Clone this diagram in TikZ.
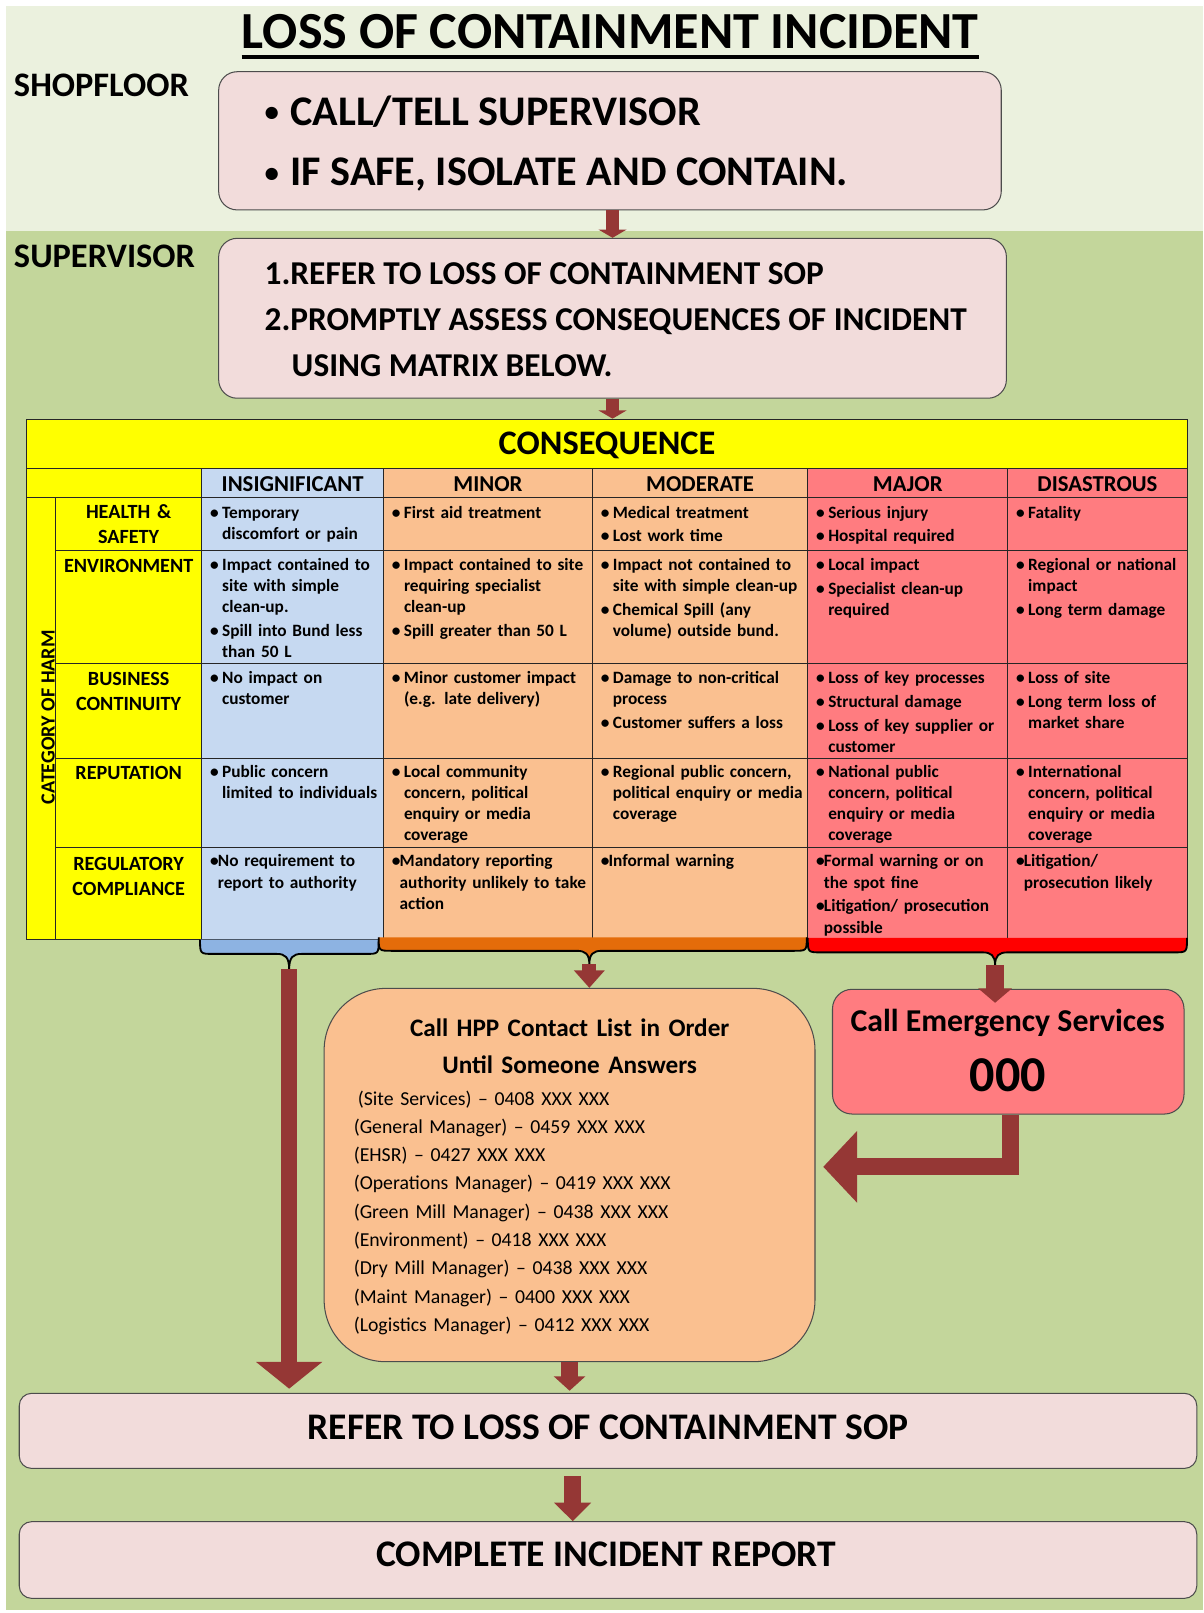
\documentclass[tikz,border=0pt]{standalone}
\usepackage{fontspec}
\setmainfont{Carlito}
\usetikzlibrary{arrows.meta,calc}
\definecolor{bandlight}{HTML}{EBF1DE}
\definecolor{bandgreen}{HTML}{C3D69B}
\definecolor{pinkc}{HTML}{F2DCDB}
\definecolor{arrowc}{HTML}{953735}
\definecolor{yelc}{HTML}{FFFF00}
\definecolor{bluec}{HTML}{C6D9F1}
\definecolor{peachc}{HTML}{FAC090}
\definecolor{redc}{HTML}{FF7C80}
\definecolor{braceblue}{HTML}{8DB3E2}
\definecolor{braceorange}{HTML}{E46C0A}
\definecolor{bracered}{HTML}{FF0000}
\newcommand\bodyfont{\fontsize{16.8}{20.3}\selectfont\bfseries}
\newcommand\regfont{\fontsize{16.8}{21}\selectfont\bfseries}
\newcommand\bu{\makebox[11.7pt][l]{•}}
\newcommand\ind{\hspace*{11.7pt}}
\newcommand\bt{\makebox[7.5pt][l]{•}}
\newcommand\indt{\hspace*{7.5pt}}
\newcommand\bigbullet{\makebox[31pt][l]{\hspace{6pt}\raisebox{3pt}{\fontsize{28}{30}\selectfont•}}}
\begin{document}
\begin{tikzpicture}[x=1pt,y=-1pt,
  pinkbox/.style={draw=black!70, line width=1pt, fill=pinkc, rounded corners=18pt, inner sep=0pt},
  lab/.style={anchor=base west, inner sep=0pt, font=\fontsize{33.4}{40}\selectfont\bfseries},
  bigtext/.style={anchor=base west, inner sep=0pt, font=\fontsize{41}{50}\selectfont\bfseries},
  suptext/.style={anchor=base west, inner sep=0pt, font=\fontsize{32.4}{40}\selectfont\bfseries},
  hdr/.style={anchor=base, inner sep=0pt, font=\fontsize{22.1}{26}\selectfont\bfseries},
  rowlab/.style={anchor=base, inner sep=0pt, text width=142pt, align=center, font=\fontsize{19.6}{24.3}\selectfont\bfseries},
  cellt/.style={anchor=base west, inner sep=0pt, text width=250pt, align=left, font=\bodyfont},
  regt/.style={anchor=base west, inner sep=0pt, text width=250pt, align=left, font=\regfont},
  gridline/.style={draw=black!85, line width=1.3pt},
  braceline/.style={draw=black, line width=1.8pt},
  bracep/.style n args={6}{insert path={(#1,#4) .. controls (#1,#5) .. ({#1+13},#5) -- ({#3-12},#5) .. controls ({#3-4},#5) and (#3,{#5+3}) .. (#3,#6) .. controls (#3,{#5+3}) and ({#3+4},#5) .. ({#3+12},#5) -- ({#2-13},#5) .. controls (#2,#5) .. (#2,#4)}},
  blockarrow/.style={draw=arrowc, line cap=butt}
]
\useasboundingbox (0,0) rectangle (1169.1,1567.5);
\fill[white] (0,0) rectangle (1169.1,1567.5);
\fill[bandlight] (5.5,5.8) rectangle (1169.1,224);
\fill[bandgreen] (5.5,224) rectangle (1169.1,1565);

% title
\node[anchor=base, inner sep=0pt, font=\fontsize{50.6}{60}\selectfont\bfseries] (title) at (593,47.5) {LOSS OF CONTAINMENT INCIDENT};
\draw[line width=3.5pt] ([yshift=-8pt]title.base west) -- ([yshift=-8pt]title.base east);

% lane labels
\node[lab] (lshop) at (13.4,94) {SHOPFLOOR};
\node[lab] (lsup) at (13.4,259.6) {SUPERVISOR};

% shopfloor box
\node[pinkbox, minimum width=760.5pt, minimum height=134.3pt] (shop) at (592.75,136.85) {};
\node[bigtext] (s1) at (251,121.5) {\bigbullet CALL/TELL SUPERVISOR};
\node[bigtext] (s2) at (251,180) {\bigbullet IF SAFE, ISOLATE AND CONTAIN.};

% supervisor box
\node[pinkbox, minimum width=765.5pt, minimum height=155.4pt] (sup) at (595.25,309.3) {};
\node[suptext] (p1) at (257,276) {1.REFER TO LOSS OF CONTAINMENT SOP};
\node[suptext] (p2) at (257,321.4) {2.PROMPTLY ASSESS CONSEQUENCES OF INCIDENT};
\node[suptext] (p3) at (283.3,366) {USING MATRIX BELOW.};

\draw[blockarrow, line width=12pt, -{Triangle[width=27pt,length=8pt]}] (sup.north |- shop.south) -- (sup.north);

% table fills
\fill[yelc] (26,407.5) rectangle (1153.8,455);
\fill[yelc] (26,455) rectangle (196,912.8);
\fill[bluec] (196,455) rectangle (372.7,912.8);
\fill[peachc] (372.7,455) rectangle (785,912.8);
\fill[redc] (785,455) rectangle (1153.8,912.8);
% grid
\draw[gridline] (26,455) -- (1153.8,455);
\draw[gridline] (26,483.3) -- (1153.8,483.3);
\foreach \yy in {535,644.6,737,823.4} \draw[gridline] (54,\yy) -- (1153.8,\yy);
\draw[gridline] (54,483.3) -- (54,912.8);
\foreach \xx in {196,372.7,575.7,785,979.3} \draw[gridline] (\xx,455) -- (\xx,912.8);
\node[draw=black!85, line width=1.3pt, minimum width=1127.8pt, minimum height=505.3pt, inner sep=0pt] (tbl) at (589.9,660.15) {};

\draw[blockarrow, line width=12pt, -{Triangle[width=27pt,length=8pt]}] (sup.south) -- (sup.south |- tbl.north);

% headings
\node[anchor=base, inner sep=0pt, font=\fontsize{33.4}{40}\selectfont\bfseries] (cons) at (589.9,442) {CONSEQUENCE};
\node[hdr] (h1) at (284.4,478) {INSIGNIFICANT};
\node[hdr] (h2) at (474.2,478) {MINOR};
\node[hdr] (h3) at (680.4,478) {MODERATE};
\node[hdr] (h4) at (882.2,478) {MAJOR};
\node[hdr] (h5) at (1066.5,478) {DISASTROUS};

\node[rotate=90, anchor=base, inner sep=0pt, font=\fontsize{19.5}{24}\selectfont\bfseries] (cat) at (53,697) {CATEGORY OF HARM};

\node[rowlab] (r1) at (125,503.7) {HEALTH \&\\SAFETY};
\node[rowlab] (r2) at (125,556.5) {ENVIRONMENT};
\node[rowlab] (r3) at (125,666.2) {BUSINESS\\CONTINUITY};
\node[rowlab] (r4) at (125,757.4) {REPUTATION};
\node[rowlab] (r5) at (125,845.5) {REGULATORY\\COMPLIANCE};

% row 1
\node[cellt] (c11) at (204,503.5) {\bu Temporary\\\ind discomfort or pain};
\node[cellt] (c12) at (380.7,503.5) {\bu First aid treatment};
\node[cellt] (c13) at (583.7,503.5) {\bu Medical treatment\\[2.8pt]\bu Lost work time};
\node[cellt] (c14) at (793,503.5) {\bu Serious injury\\[2.8pt]\bu Hospital required};
\node[cellt] (c15) at (987.3,503.5) {\bu Fatality};
% row 2
\node[cellt] (c21) at (204,554.8) {\bu Impact contained to\\\ind site with simple\\\ind clean-up.\\[2.8pt]\bu Spill into Bund less\\\ind than 50 L};
\node[cellt] (c22) at (380.7,554.8) {\bu Impact contained to site\\\ind requiring specialist\\\ind clean-up\\[2.8pt]\bu Spill greater than 50 L};
\node[cellt] (c23) at (583.7,554.8) {\bu Impact not contained to\\\ind site with simple clean-up\\[2.8pt]\bu Chemical Spill (any\\\ind volume) outside bund.};
\node[cellt] (c24) at (793,554.8) {\bu Local impact\\[2.8pt]\bu Specialist clean-up\\\ind required};
\node[cellt] (c25) at (987.3,554.8) {\bu Regional or national\\\ind impact\\[2.8pt]\bu Long term damage};
% row 3
\node[cellt] (c31) at (204,664.3) {\bu No impact on\\\ind customer};
\node[cellt] (c32) at (380.7,664.3) {\bu Minor customer impact\\\ind (e.g. late delivery)};
\node[cellt] (c33) at (583.7,664.3) {\bu Damage to non-critical\\\ind process\\[2.8pt]\bu Customer suffers a loss};
\node[cellt] (c34) at (793,664.3) {\bu Loss of key processes\\[2.8pt]\bu Structural damage\\[2.8pt]\bu Loss of key supplier or\\\ind customer};
\node[cellt] (c35) at (987.3,664.3) {\bu Loss of site\\[2.8pt]\bu Long term loss of\\\ind market share};
% row 4
\node[cellt] (c41) at (204,755.8) {\bu Public concern\\\ind limited to individuals};
\node[cellt] (c42) at (380.7,755.8) {\bu Local community\\\ind concern, political\\\ind enquiry or media\\\ind coverage};
\node[cellt] (c43) at (583.7,755.8) {\bu Regional public concern,\\\ind political enquiry or media\\\ind coverage};
\node[cellt] (c44) at (793,755.8) {\bu National public\\\ind concern, political\\\ind enquiry or media\\\ind coverage};
\node[cellt] (c45) at (987.3,755.8) {\bu International\\\ind concern, political\\\ind enquiry or media\\\ind coverage};
% row 5
\node[regt] (c51) at (204,842.3) {\bt No requirement to\\\indt report to authority};
\node[regt] (c52) at (380.7,842.3) {\bt Mandatory reporting\\\indt authority unlikely to take\\\indt action};
\node[regt] (c53) at (583.7,842.3) {\bt Informal warning};
\node[regt] (c54) at (793,842.3) {\bt Formal warning or on\\\indt the spot fine\\[1.5pt]\bt Litigation/ prosecution\\\indt possible};
\node[regt] (c55) at (987.3,842.3) {\bt Litigation/\\\indt prosecution likely};

% braces
\fill[braceblue, bracep={194.4}{368}{281}{913}{927}{942}];
\draw[braceline, bracep={194.4}{368}{281}{913}{927}{942}];
\fill[braceorange, bracep={368}{784}{572.7}{911}{924}{937}];
\draw[braceline, bracep={368}{784}{572.7}{911}{924}{937}];
\fill[bracered, bracep={785}{1153.5}{967}{911.5}{925.5}{938}];
\draw[braceline, bracep={785}{1153.5}{967}{911.5}{925.5}{938}];
\coordinate (btip) at (281,942);
\coordinate (otip) at (572.7,937);
\coordinate (rtip) at (967,938);

% contact list box
\node[draw=black!70, line width=1pt, fill=peachc, rounded corners=60pt, minimum width=477pt, minimum height=362.8pt, inner sep=0pt] (hpp) at (553.5,1141.9) {};
\node[anchor=base, inner sep=0pt, text width=420pt, align=center, font=\fontsize{24.5}{36.2}\selectfont\bfseries] (hppt) at (553.6,1006.8) {Call HPP Contact List in Order\\Until Someone Answers};
\node[anchor=base west, inner sep=0pt, text width=420pt, align=left, font=\fontsize{19.2}{27.5}\selectfont] (hppl) at (343.6,1073.9) {\hspace*{4pt}(Site Services) – 0408 XXX XXX\\(General Manager) – 0459 XXX XXX\\(EHSR) – 0427 XXX XXX\\(Operations Manager) – 0419 XXX XXX\\(Green Mill Manager) – 0438 XXX XXX\\(Environment) – 0418 XXX XXX\\(Dry Mill Manager) – 0438 XXX XXX\\(Maint Manager) – 0400 XXX XXX\\(Logistics Manager) – 0412 XXX XXX};

% emergency box
\node[draw=black!70, line width=1pt, fill=redc, rounded corners=19pt, minimum width=341.6pt, minimum height=121.2pt, inner sep=0pt] (emg) at (979.8,1022) {};
\node[anchor=base, inner sep=0pt, font=\fontsize{30.9}{36}\selectfont\bfseries] (emt) at (979.3,1002.6) {Call Emergency Services};
\node[anchor=base, inner sep=0pt, font=\fontsize{48.7}{56}\selectfont\bfseries] (emn) at (979.3,1061) {000};

% final boxes
\node[pinkbox, rounded corners=12pt, minimum width=1144.3pt, minimum height=73pt] (refer) at (590.85,1390.5) {};
\node[anchor=base, inner sep=0pt, font=\fontsize{36.5}{42}\selectfont\bfseries] (refert) at (591,1398.7) {REFER TO LOSS OF CONTAINMENT SOP};
\node[pinkbox, rounded corners=12pt, minimum width=1144.3pt, minimum height=74.5pt] (complete) at (590.85,1516) {};
\node[anchor=base, inner sep=0pt, font=\fontsize{36.5}{42}\selectfont\bfseries] (compt) at (589,1522.6) {COMPLETE INCIDENT REPORT};

% arrows
\draw[blockarrow, line width=15pt, -{Triangle[width=63pt,length=26pt]}] (btip) -- ([yshift=4pt]btip |- refer.north);
\draw[blockarrow, line width=13.4pt, -{Triangle[width=29pt,length=17pt]}] (otip) -- (otip |- hpp.north);
\draw[blockarrow, line width=18pt, -{Triangle[width=32pt,length=14pt]}] (rtip) -- ([yshift=-13.6pt]rtip |- emg.north);
\coordinate (elbowend) at ($(hpp.east)+(7.5,-8)$);
\draw[blockarrow, line width=16.2pt, line join=miter, -{Triangle[width=68pt,length=33pt]}] ([xshift=2pt]emg.south) |- (elbowend);
\draw[blockarrow, line width=16.5pt, -{Triangle[width=30pt,length=14pt]}] (hpp.south) -- ([yshift=2pt]hpp.south |- refer.north);
\coordinate (rc) at ($(refer.south -| hpp.south)+(3,7)$);
\draw[blockarrow, line width=17pt, -{Triangle[width=35pt,length=18pt]}] (rc) -- (rc |- complete.north);
\end{tikzpicture}
\end{document}
